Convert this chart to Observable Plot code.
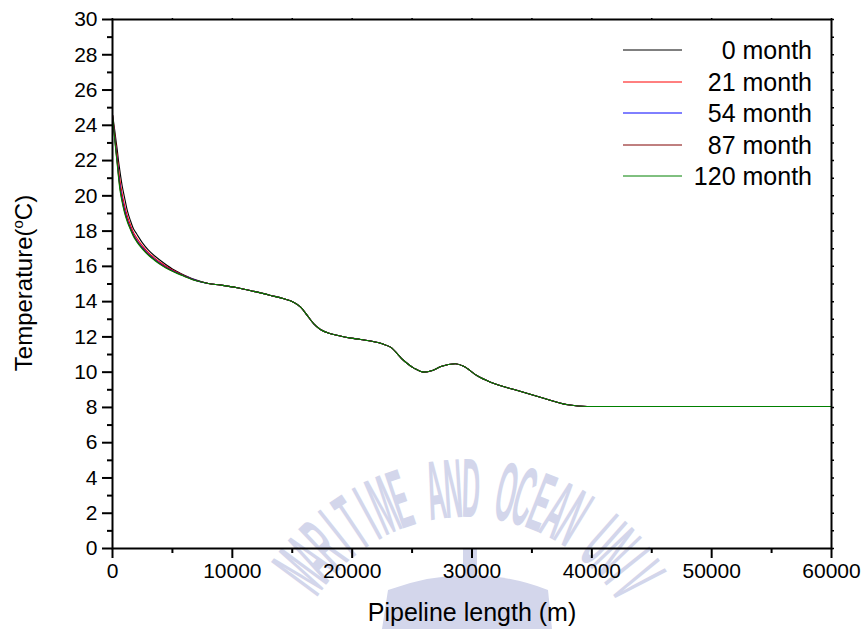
<!DOCTYPE html>
<html>
<head>
<meta charset="utf-8">
<script src="https://cdn.jsdelivr.net/npm/d3@7"></script>
<script src="https://cdn.jsdelivr.net/npm/@observablehq/plot@0.6"></script>
<style>
  html, body { margin: 0; padding: 0; background: #fff; }
</style>
</head>
<body>
<div id="chart"></div>
<script>
// ---- data ----
const distance = [0,100,200,300,400,500,600,800,1000,1250,1500,1750,2000,2500,3000,3500,4000,5000,6000,7000,
  8000,9000,10400,11800,13200,14300,15100,15700,16250,16800,17350,18200,19000,19900,20700,22500,23200,24300,25150,26000,
  26700,27400,28600,29300,30400,31550,33800,35700,38000,39600,45000,50000,55000,60000];

// first 20 points (0 - 7000 m) differ between the months
const head0   = [24.6,24.15,23.65,23.1,22.6,22.0,21.5,20.6,19.93,19.13,18.59,18.13,17.86,17.33,16.92,16.6,16.33,15.85,15.5,15.22];
const head21  = [24.6,23.98,23.38,22.75,22.18,21.53,20.98,20.13,19.48,18.83,18.34,17.92,17.64,17.16,16.78,16.48,16.22,15.79,15.47,15.2];
const head54  = [24.6,23.88,23.22,22.55,21.94,21.26,20.68,19.86,19.24,18.64,18.18,17.8,17.51,17.06,16.69,16.41,16.15,15.75,15.45,15.19];
const head87  = [24.6,23.84,23.15,22.47,21.84,21.15,20.56,19.75,19.14,18.57,18.13,17.75,17.46,17.02,16.66,16.38,16.12,15.73,15.44,15.18];
const head120 = [24.6,23.8,23.1,22.4,21.75,21.05,20.45,19.65,19.05,18.5,18.08,17.7,17.42,16.98,16.63,16.35,16.1,15.72,15.43,15.18];
// from 8000 m onward all months coincide
const tailTemp = [15.03,14.94,14.79,14.58,14.35,14.16,13.97,13.69,13.22,12.74,12.42,12.18,12.05,11.93,11.85,11.61,11.42,10.66,10.23,10.0,
  10.1,10.32,10.48,10.34,9.81,9.43,8.96,8.58,8.15,8.05,8.05,8.05,8.05,8.05];

const seriesNames  = ["0 month","21 month","54 month","87 month","120 month"];
const seriesColors = ["#000000","#ff0000","#0000ff","#800000","#008000"];

const xTicks      = [0,10000,20000,30000,40000,50000,60000];
const xMinorTicks = [5000,15000,25000,35000,45000,55000];
const xTopTicks   = [0,5000,10000,15000,20000,25000,30000,35000,40000,45000,50000,55000,60000];
const yTicks      = [0,2,4,6,8,10,12,14,16,18,20,22,24,26,28,30];
const yMinorTicks = [1,3,5,7,9,11,13,15,17,19,21,23,25,27,29];
const yRightTicks = [0,1,2,3,4,5,6,7,8,9,10,11,12,13,14,15,16,17,18,19,20,21,22,23,24,25,26,27,28,29,30];

const xTitle = "Pipeline length (m)";
const watermarkText = "KOREA MARITIME AND OCEAN UNIVERSITY";

// ---- build table ----
const heads = [head0, head21, head54, head87, head120];
const rows = [];
seriesNames.forEach((name, s) => {
  const temps = heads[s].concat(tailTemp);
  distance.forEach((d, i) => rows.push({series: name, distance: d, temp: temps[i]}));
});

const fontFamily = "'Liberation Sans', Arial, Helvetica, sans-serif";
const blank = () => "";

const chart = Plot.plot({
  width: 863,
  height: 629,
  marginTop: 19,
  marginRight: 32,
  marginBottom: 81,
  marginLeft: 112,
  style: {fontFamily, fontSize: "21px", background: "#fff", color: "#000", overflow: "visible"},
  x: {domain: [0, 60000], label: null},
  y: {domain: [0, 30], label: null},
  color: {type: "ordinal", domain: seriesNames, range: seriesColors},
  marks: [
    Plot.axisX({ticks: xTicks, tickSize: 10, tickPadding: 5, strokeWidth: 2, fontSize: 21, tickFormat: d => String(d), label: null}),
    Plot.axisX({ticks: xMinorTicks, tickSize: 5, strokeWidth: 2, tickFormat: blank, label: null}),
    Plot.axisX({anchor: "top", ticks: xTopTicks, tickSize: 2, strokeWidth: 1.5, tickFormat: blank, label: null}),
    Plot.axisY({ticks: yTicks, tickSize: 10, tickPadding: 5, strokeWidth: 2, fontSize: 21, tickFormat: d => String(d), label: null}),
    Plot.axisY({ticks: yMinorTicks, tickSize: 5, strokeWidth: 2, tickFormat: blank, label: null}),
    Plot.axisY({anchor: "right", ticks: yRightTicks, tickSize: 2, strokeWidth: 1.5, tickFormat: blank, label: null}),
    Plot.line(rows, {x: "distance", y: "temp", z: "series", stroke: "series", strokeWidth: 1.1, curve: "monotone-x"}),
    Plot.frame({stroke: "#000", strokeWidth: 2})
  ]
});

document.getElementById("chart").appendChild(chart);
const svg = d3.select(chart);

// make sure tick labels use the reference size
svg.selectAll('g[aria-label="x-axis tick label"], g[aria-label="y-axis tick label"]')
  .attr("font-size", 21)
  .selectAll("text").attr("font-size", 21);

// ---- faint watermark behind everything (only letters fully inside the picture) ----
const wm = svg.insert("g", ":first-child").attr("fill", "#d3d6eb");
const wmCx = 466, wmCy = 695, wmR = 178, wmW = 26, wmAsc = 80, wmDesc = 22;
Array.from(watermarkText).forEach((ch, i) => {
  const deg = -3.6 + (i - 16) * 5.0;
  const a = deg * Math.PI / 180;
  const x = wmCx + wmR * Math.sin(a), y = wmCy - wmR * Math.cos(a);
  const corners = [[-wmW/2, wmDesc], [wmW/2, wmDesc], [-wmW/2, -wmAsc], [wmW/2, -wmAsc]];
  const maxY = Math.max(...corners.map(([cx, cy]) => y + cx * Math.sin(a) + cy * Math.cos(a)));
  if (maxY > 627 || ch === " ") return;
  wm.append("text")
    .attr("transform", `translate(${x},${y}) rotate(${deg}) scale(0.3,1)`)
    .attr("text-anchor", "middle")
    .attr("font-family", fontFamily)
    .attr("font-weight", "bold")
    .attr("font-size", 84)
    .text(ch);
});
wm.append("path").attr("d", "M 382 629 L 388 590 Q 470 560 548 590 L 552 629 Z");
wm.append("rect").attr("x", 463).attr("y", 549).attr("width", 14).attr("height", 30);

// ---- axis titles ----
svg.append("text")
  .attr("x", 472).attr("y", 621)
  .attr("text-anchor", "middle")
  .attr("font-family", fontFamily)
  .attr("font-size", 25)
  .attr("fill", "#000")
  .text(xTitle);

const yt = svg.append("text")
  .attr("transform", "translate(32,283) rotate(-90)")
  .attr("text-anchor", "middle")
  .attr("font-family", fontFamily)
  .attr("font-size", 24)
  .attr("fill", "#000");
yt.append("tspan").text("Temperature(");
yt.append("tspan").attr("font-size", 15).attr("dy", -9).text("o");
yt.append("tspan").attr("dy", 9).text("C)");

// ---- legend ----
const lg = svg.append("g").attr("font-family", fontFamily).attr("fill", "#000");
seriesNames.forEach((name, i) => {
  const y = Math.round(50 + i * 31.6);
  lg.append("line")
    .attr("x1", 623).attr("x2", 682).attr("y1", y).attr("y2", y)
    .attr("stroke", seriesColors[i]).attr("stroke-width", 1);
  lg.append("text")
    .attr("x", 812).attr("y", y)
    .attr("text-anchor", "end")
    .attr("dy", "0.36em")
    .attr("font-size", 25)
    .text(name);
});
</script>
</body>
</html>
